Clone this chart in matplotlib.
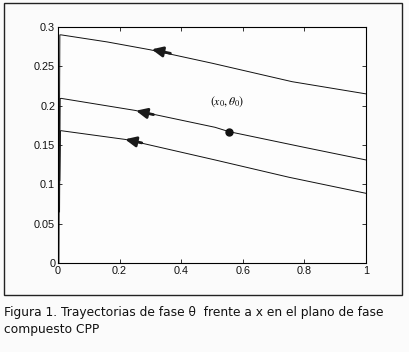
import matplotlib
matplotlib.use("Agg")
import matplotlib.pyplot as plt
from matplotlib.patches import Rectangle

# trajectories (x, theta)
top_x = [0.003, 0.006, 0.01, 0.16, 0.30, 0.50, 0.76, 1.0]
top_y = [0.0, 0.29, 0.290, 0.281, 0.271, 0.254, 0.2305, 0.215]
mid_x = [0.005, 0.007, 0.01, 0.25, 0.51, 0.555, 0.80, 1.0]
mid_y = [0.065, 0.209, 0.2093, 0.194, 0.1725, 0.167, 0.147, 0.131]
bot_x = [0.006, 0.008, 0.01, 0.22, 0.51, 0.75, 1.0]
bot_y = [0.105, 0.168, 0.1682, 0.157, 0.131, 0.109, 0.0886]

# direction arrows: (head x, head y, tail x, tail y)
arrows = [(0.304, 0.2716, 0.365, 0.2665),
          (0.253, 0.1936, 0.31, 0.1886),
          (0.2175, 0.1573, 0.272, 0.1527)]

pt_x, pt_y = 0.556, 0.167
xticks = [0, 0.2, 0.4, 0.6, 0.8, 1]
yticks = [0, 0.05, 0.1, 0.15, 0.2, 0.25, 0.3]

plt.rcParams['mathtext.fontset'] = 'stix'

fig = plt.figure(figsize=(4.09, 3.52), dpi=100)
fig.patch.set_facecolor('#fbfbfb')

# outer frame round the plot
fig.patches.append(Rectangle((0.0098, 0.162), 0.973, 0.829, transform=fig.transFigure,
                             fill=False, edgecolor='#222222', lw=1.0))

ax = fig.add_axes([0.1418, 0.2528, 0.753, 0.6705])
ax.set_facecolor('#fdfdfd')

for xs, ys in [(top_x, top_y), (mid_x, mid_y), (bot_x, bot_y)]:
    ax.plot(xs, ys, color='#111111', lw=0.7)

for hx, hy, tx, ty in arrows:
    ax.annotate('', xy=(hx, hy), xytext=(tx, ty),
                arrowprops=dict(arrowstyle='-|>,head_length=0.65,head_width=0.3',
                                lw=2.0, color='#1a1a1a', shrinkA=0, shrinkB=0))

ax.plot([pt_x], [pt_y], 'o', color='#111111', ms=5)
ax.text(0.548, 0.205, r'$(x_0,\theta_0)$', fontsize=8.5, ha='center', va='center')

ax.set_xlim(0, 1)
ax.set_ylim(0, 0.3)
ax.set_xticks(xticks)
ax.set_xticklabels(['0', '0.2', '0.4', '0.6', '0.8', '1'])
ax.set_yticks(yticks)
ax.set_yticklabels(['0', '0.05', '0.1', '0.15', '0.2', '0.25', '0.3'])
ax.tick_params(direction='in', top=True, right=True, length=3, width=0.6,
               labelsize=7.8, pad=2, colors='#111111')
for lab in ax.get_xticklabels() + ax.get_yticklabels():
    lab.set_family('Liberation Sans')
for s in ax.spines.values():
    s.set_linewidth(0.8)

fig.text(0.01, 0.111, 'Figura 1. Trayectorias de fase θ  frente a x en el plano de fase',
         fontsize=8.8, va='center', ha='left', color='#111111')
fig.text(0.01, 0.0625, 'compuesto CPP', fontsize=8.8, va='center', ha='left', color='#111111')

fig.savefig('out.png', dpi=100, facecolor=fig.get_facecolor())
